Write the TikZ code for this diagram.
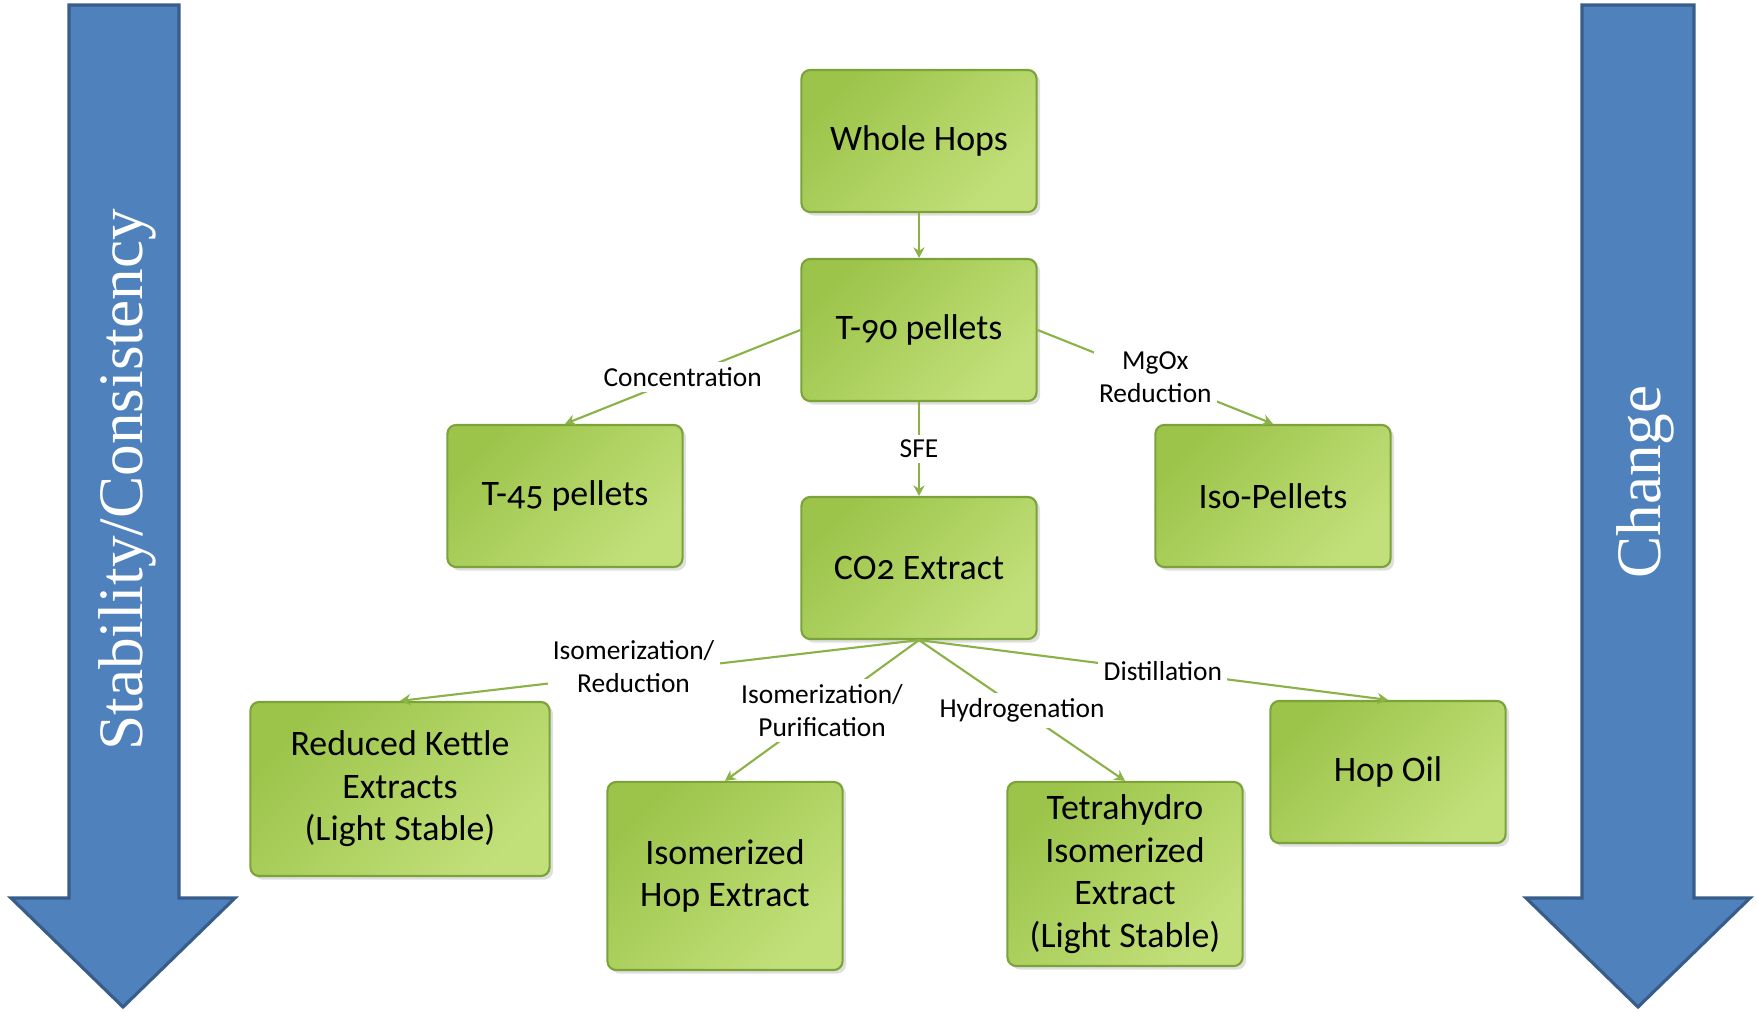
\documentclass[tikz,border=0pt]{standalone}
\usepackage{fontspec}
\setmainfont{Carlito}[Numbers=OldStyle]
\newfontfamily\arrowfont{Liberation Serif}
\usetikzlibrary{arrows.meta,shadows}

\definecolor{hopA}{RGB}{156,196,74}
\definecolor{hopB}{RGB}{194,224,122}
\definecolor{hopedge}{RGB}{124,162,58}
\definecolor{hopline}{RGB}{138,178,70}
\definecolor{flowblue}{RGB}{79,129,189}
\definecolor{flowedge}{RGB}{56,93,138}

\begin{document}
\begin{tikzpicture}[x=0.01cm, y=-0.01cm,
  hopbox/.style={draw=hopedge, line width=0.6pt, rounded corners=2.5pt,
    left color=hopA, right color=hopB, shading angle=45,
    drop shadow={opacity=0.25, shadow xshift=1pt, shadow yshift=-1pt},
    minimum width=2.35cm, minimum height=1.42cm, align=center,
    font=\fontsize{10.2}{12.1}\selectfont},
  proc/.style={fill=white, inner sep=1.5pt, align=center,
    font=\fontsize{7.8}{9.3}\selectfont},
  link/.style={draw=hopline, line width=0.6pt, -{Stealth[length=3pt, width=3.2pt]}},
  bigarrow/.style={fill=flowblue, draw=flowedge, line width=0.9pt, line join=miter},
  bigtext/.style={text=white, rotate=90, font=\arrowfont\fontsize{18}{20}\selectfont}]
  \useasboundingbox (0,0) rectangle (1757,1013);

  % the two side arrows
  \draw[bigarrow] (69,5) -- (179,5) -- (179,898) -- (235,898) -- (123,1007)
    -- (11,898) -- (69,898) -- cycle;
  \draw[bigarrow] (1582,5) -- (1694,5) -- (1694,898) -- (1750,898) -- (1638,1007)
    -- (1526,898) -- (1582,898) -- cycle;
  \node[bigtext] (stab) at (127,480) {Stability/Consistency};
  \node[bigtext] (change) at (1645,482) {Change};

  % products
  \node[hopbox] (whole) at (919,141) {Whole Hops};
  \node[hopbox] (t90) at (919,330) {T-90 pellets};
  \node[hopbox] (t45) at (565,496) {T-45 pellets};
  \node[hopbox] (iso) at (1273,496) {Iso-Pellets};
  \node[hopbox] (co2) at (919,568) {CO2 Extract};
  \node[hopbox, minimum width=2.99cm, minimum height=1.74cm] (rke) at (400,789)
    {Reduced Kettle\\Extracts\\(Light Stable)};
  \node[hopbox, minimum height=1.88cm] (ihe) at (725,876) {Isomerized\\Hop Extract};
  \node[hopbox, minimum height=1.84cm] (thie) at (1125,874)
    {Tetrahydro\\Isomerized\\Extract\\(Light Stable)};
  \node[hopbox] (oil) at (1388,772) {Hop Oil};

  % processes
  \draw[link] (whole) -- (t90);
  \draw[link] (t90.west) -- node[proc] {Concentration} (t45.north);
  \draw[link] (t90.east) -- node[proc] {MgOx\\Reduction} (iso.north);
  \draw[link] (t90) -- node[proc] {SFE} (co2);
  \draw[link] (co2.south) -- node[proc, pos=0.55, yshift=2pt] {Isomerization/\\Reduction} (rke.north);
  \draw[link] (co2.south) -- node[proc] {Isomerization/\\Purification} (ihe.north);
  \draw[link] (co2.south) -- node[proc] {Hydrogenation} (thie.north);
  \draw[link] (co2.south) -- node[proc, pos=0.52] {Distillation} (oil.north);
\end{tikzpicture}
\end{document}
